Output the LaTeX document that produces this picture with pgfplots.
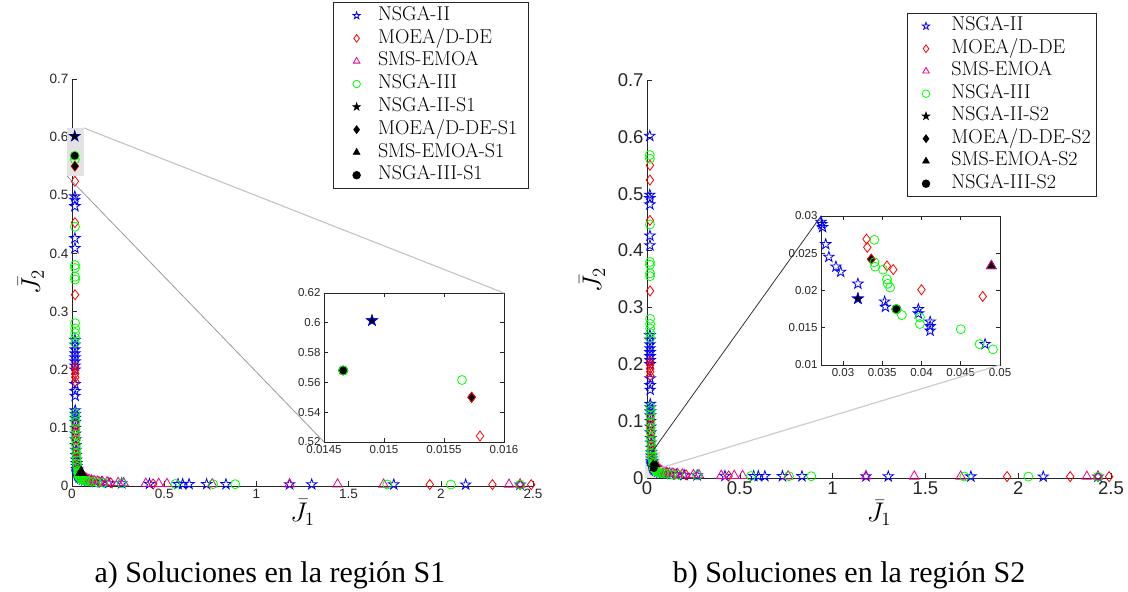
\documentclass[border=0pt]{standalone}
\usepackage{fontspec}
\usepackage{pgfplots}
\usepackage{pgfplotstable}
\pgfplotsset{compat=1.18}
\newfontfamily\arialf{Liberation Sans}
\newfontfamily\timesf{Liberation Serif}
\definecolor{axgray}{RGB}{38,38,38}

\pgfdeclareplotmark{pentagram}{%
 \pgfpathmoveto{\pgfpointpolar{90}{\pgfplotmarksize}}%
 \pgfpathlineto{\pgfpointpolar{126}{0.382\pgfplotmarksize}}%
 \pgfpathlineto{\pgfpointpolar{162}{\pgfplotmarksize}}%
 \pgfpathlineto{\pgfpointpolar{198}{0.382\pgfplotmarksize}}%
 \pgfpathlineto{\pgfpointpolar{234}{\pgfplotmarksize}}%
 \pgfpathlineto{\pgfpointpolar{270}{0.382\pgfplotmarksize}}%
 \pgfpathlineto{\pgfpointpolar{306}{\pgfplotmarksize}}%
 \pgfpathlineto{\pgfpointpolar{342}{0.382\pgfplotmarksize}}%
 \pgfpathlineto{\pgfpointpolar{18}{\pgfplotmarksize}}%
 \pgfpathlineto{\pgfpointpolar{54}{0.382\pgfplotmarksize}}%
 \pgfpathclose\pgfusepathqstroke}
\pgfdeclareplotmark{pentagram*}{%
 \pgfpathmoveto{\pgfpointpolar{90}{\pgfplotmarksize}}%
 \pgfpathlineto{\pgfpointpolar{126}{0.382\pgfplotmarksize}}%
 \pgfpathlineto{\pgfpointpolar{162}{\pgfplotmarksize}}%
 \pgfpathlineto{\pgfpointpolar{198}{0.382\pgfplotmarksize}}%
 \pgfpathlineto{\pgfpointpolar{234}{\pgfplotmarksize}}%
 \pgfpathlineto{\pgfpointpolar{270}{0.382\pgfplotmarksize}}%
 \pgfpathlineto{\pgfpointpolar{306}{\pgfplotmarksize}}%
 \pgfpathlineto{\pgfpointpolar{342}{0.382\pgfplotmarksize}}%
 \pgfpathlineto{\pgfpointpolar{18}{\pgfplotmarksize}}%
 \pgfpathlineto{\pgfpointpolar{54}{0.382\pgfplotmarksize}}%
 \pgfpathclose\pgfusepathqfillstroke}

\pgfplotstableread{
x y
0.0149 0.6015
0.0152 0.498
0.0153 0.492
0.0155 0.481
0.0157 0.426
0.0158 0.409
0.0160 0.251
0.0161 0.243
0.0162 0.235
0.0163 0.228
0.0164 0.221
0.0165 0.214
0.0166 0.207
0.0167 0.200
0.0169 0.175
0.0170 0.163
0.0171 0.155
0.0175 0.130
0.0177 0.124
0.0179 0.117
0.0182 0.110
0.0186 0.100
0.0190 0.090
0.0196 0.080
0.0203 0.070
0.0210 0.062
0.0220 0.053
0.0232 0.045
0.0245 0.039
0.0258 0.034
0.0272 0.0292
0.0273 0.0289
0.0274 0.0285
0.0278 0.0262
0.0282 0.0245
0.0291 0.0232
0.0297 0.0225
0.0319 0.0209
0.0319 0.0189
0.0353 0.0185
0.0354 0.0178
0.0396 0.0175
0.0396 0.0169
0.0411 0.0158
0.0411 0.0152
0.0411 0.0146
0.0481 0.0128
0.058 0.0110
0.070 0.0095
0.085 0.0085
0.105 0.0075
0.130 0.0068
0.160 0.0060
0.200 0.0052
0.270 0.0045
0.420 0.0035
0.575 0.0033
0.600 0.0033
0.635 0.0032
0.730 0.0031
0.835 0.0030
1.180 0.0028
1.300 0.0027
1.745 0.0025
2.135 0.0024
2.430 0.0023
}\nsgaii

\pgfplotstableread{
x y
0.01573 0.550
0.0158 0.524
0.0160 0.453
0.0165 0.329
0.0170 0.205
0.0171 0.199
0.0172 0.193
0.0173 0.187
0.0175 0.180
0.0190 0.105
0.0195 0.096
0.0200 0.088
0.0210 0.078
0.0222 0.068
0.0235 0.058
0.0250 0.048
0.0270 0.038
0.0330 0.0269
0.0331 0.0258
0.0336 0.0242
0.0356 0.0233
0.0364 0.0228
0.0400 0.0201
0.0478 0.0192
0.065 0.0130
0.085 0.0100
0.110 0.0085
0.150 0.0068
0.210 0.0055
0.440 0.0035
1.940 0.0025
2.280 0.0024
2.430 0.0023
2.490 0.0023
}\moead

\pgfplotstableread{
x y
0.0489 0.0233
0.055 0.0190
0.062 0.0165
0.070 0.0145
0.080 0.0125
0.092 0.0110
0.105 0.0098
0.120 0.0088
0.140 0.0080
0.165 0.0072
0.190 0.0066
0.250 0.0055
0.280 0.0052
0.400 0.0042
0.470 0.0040
0.515 0.0038
0.760 0.0033
1.180 0.0030
1.440 0.0029
1.690 0.0027
2.370 0.0025
2.430 0.0025
}\smsemoa

\pgfplotstableread{
x y
0.01466 0.568
0.01565 0.5616
0.0160 0.446
0.0162 0.380
0.0163 0.375
0.0164 0.360
0.0165 0.355
0.0168 0.280
0.0169 0.271
0.0170 0.263
0.0171 0.255
0.0172 0.246
0.0180 0.125
0.0182 0.118
0.0185 0.110
0.0190 0.098
0.0197 0.088
0.0205 0.079
0.0213 0.071
0.0222 0.064
0.0232 0.057
0.0243 0.050
0.0256 0.044
0.0270 0.038
0.0285 0.033
0.0340 0.0268
0.0340 0.0238
0.0341 0.0232
0.0351 0.0228
0.0356 0.0215
0.0357 0.0209
0.0360 0.0204
0.0368 0.0175
0.0375 0.0167
0.0398 0.0164
0.0398 0.0155
0.0450 0.0148
0.0474 0.0128
0.0491 0.0121
0.056 0.0105
0.065 0.0095
0.075 0.0088
0.090 0.0080
0.110 0.0072
0.135 0.0065
0.170 0.0058
0.270 0.0045
0.560 0.0034
0.765 0.0032
0.885 0.0031
1.710 0.0026
2.055 0.0025
2.430 0.0024
}\nsgaiii

\pgfplotsset{
  sA/.style={only marks, mark=pentagram, blue, mark size=5.5pt, line width=0.8pt},
  sB/.style={only marks, mark=diamond, red, mark size=5pt, line width=0.8pt},
  sC/.style={only marks, mark=triangle, magenta, mark size=5.5pt, line width=0.8pt},
  sD/.style={only marks, mark=o, green, mark size=4.5pt, line width=0.8pt},
  kA/.style={only marks, mark=pentagram*, black, mark size=5.5pt, line width=0.8pt},
  kB/.style={only marks, mark=diamond*, black, mark size=5pt, line width=0.8pt},
  kC/.style={only marks, mark=triangle*, black, mark size=6pt, line width=0.8pt},
  kD/.style={only marks, mark=*, black, mark size=4.5pt, line width=0.8pt},
  mylegimg/.style={legend image code/.code={\path (-14pt,0pt) (14pt,0pt); \draw[##1,mark size=3.8pt] plot coordinates {(0pt,0pt)};}},
  mainax/.style={scale only axis, anchor=south west,
    axis x line*=bottom, axis y line*=left,
    axis line style={axgray, line width=0.6pt, -},
    tick style={axgray, line width=0.6pt}, major tick length=5pt, tick align=inside,
    xmin=0, xmax=2.5, ymin=0, ymax=0.7,
    xtick={0,0.5,1,1.5,2,2.5}, ytick={0,0.1,0.2,0.3,0.4,0.5,0.6,0.7},
    clip=false, scaled ticks=false,
    /pgf/number format/assume math mode=true,
    label style={font=\fontsize{20.74}{24}\selectfont, scale=1.3},
    mylegimg, legend cell align=left},
  insetax/.style={scale only axis, anchor=south west,
    axis line style={axgray, line width=0.6pt},
    tick style={axgray, line width=0.6pt}, major tick length=4pt, tick align=inside,
    clip=false, scaled ticks=false,
    axis background/.style={fill=white},
    /pgf/number format/assume math mode=true,
    /pgf/number format/fixed, /pgf/number format/precision=4,
    ticklabel style={font=\arialf\fontsize{11.5}{14}\selectfont, text=axgray}},
}

\begin{document}
\begin{tikzpicture}
\useasboundingbox (0pt,0pt) rectangle (1128pt,592pt);

% ---------------- left main axis ----------------
\begin{axis}[mainax, at={(72pt,106pt)}, width=461pt, height=407pt,
  ticklabel style={font=\arialf\fontsize{13.5}{16}\selectfont, text=axgray},
  xlabel={$\bar{J}_1$}, ylabel={$\bar{J}_2$},
  xlabel style={at={(axis description cs:0.5,-0.066)}, anchor=center},
  ylabel style={at={(axis description cs:-0.089,0.501)}, anchor=center},
  legend style={at={(0.566,1.189)}, anchor=north west, draw=axgray, line width=0.6pt, fill=white,
    font=\fontsize{20}{22}\selectfont, inner xsep=9pt, inner ysep=2pt, row sep=0.3pt, column sep=5pt,
    nodes={inner sep=2pt, text height=14pt, text depth=4.5pt, font=\fontsize{20}{22}\selectfont}}]
\addplot[sA] table {\nsgaii}; \addlegendentry{NSGA-II}
\addplot[sB] table {\moead}; \addlegendentry{MOEA/D-DE}
\addplot[sC] table {\smsemoa}; \addlegendentry{SMS-EMOA}
\addplot[sD] table {\nsgaiii}; \addlegendentry{NSGA-III}
\fill[gray!22] (axis cs:-0.027,0.534) rectangle (axis cs:0.065,0.616);
\addplot[kA, mark size=4pt] coordinates {(0.0149,0.6015)}; \addlegendentry{NSGA-II-S1}
\addplot[kB, mark size=4pt] coordinates {(0.01573,0.550)}; \addlegendentry{MOEA/D-DE-S1}
\addplot[kC] coordinates {(0.0489,0.0233)}; \addlegendentry{SMS-EMOA-S1}
\addplot[kD, mark size=3.5pt] coordinates {(0.01466,0.568)}; \addlegendentry{NSGA-III-S1}
\end{axis}

% ---------------- left inset ----------------
\begin{axis}[insetax, at={(324pt,150pt)}, width=180pt, height=149pt,
  xmin=0.0145, xmax=0.016, ymin=0.52, ymax=0.62,
  xtick={0.0145,0.015,0.0155,0.016}, ytick={0.52,0.54,0.56,0.58,0.6,0.62},
  restrict x to domain=0.0144:0.0161, restrict y to domain=0.519:0.621]
\addplot[kA] coordinates {(0.0149,0.6015)};
\addplot[kB] coordinates {(0.01573,0.550)};
\addplot[kD] coordinates {(0.01466,0.568)};
\addplot[sA] table {\nsgaii};
\addplot[sB] table {\moead};
\addplot[sC] table {\smsemoa};
\addplot[sD] table {\nsgaiii};
\end{axis}

% ---------------- right main axis ----------------
\begin{axis}[mainax, at={(647pt,114pt)}, width=464pt, height=398pt,
  ticklabel style={font=\arialf\fontsize{18.5}{22}\selectfont, text=axgray},
  xlabel={$\bar{J}_1$}, ylabel={$\bar{J}_2$},
  xlabel style={at={(axis description cs:0.5,-0.088)}, anchor=center},
  ylabel style={at={(axis description cs:-0.118,0.497)}, anchor=center},
  legend style={at={(0.561,1.168)}, anchor=north west, draw=axgray, line width=0.6pt, fill=white,
    font=\fontsize{20}{22}\selectfont, inner xsep=4pt, inner ysep=1.5pt, row sep=0pt, column sep=9pt,
    nodes={inner sep=2pt, text height=14pt, text depth=4.5pt, font=\fontsize{20}{22}\selectfont}}]
\addplot[sA] table {\nsgaii}; \addlegendentry{NSGA-II}
\addplot[sB] table {\moead}; \addlegendentry{MOEA/D-DE}
\addplot[sC] table {\smsemoa}; \addlegendentry{SMS-EMOA}
\addplot[sD] table {\nsgaiii}; \addlegendentry{NSGA-III}
\fill[gray!22] (axis cs:-0.011,0.0) rectangle (axis cs:0.07,0.046);
\addplot[kA, mark size=4pt] coordinates {(0.0319,0.0189)}; \addlegendentry{NSGA-II-S2}
\addplot[kB, mark size=4pt] coordinates {(0.0336,0.0242)}; \addlegendentry{MOEA/D-DE-S2}
\addplot[kC, mark size=4pt] coordinates {(0.0489,0.0233)}; \addlegendentry{SMS-EMOA-S2}
\addplot[kD, mark size=3.5pt] coordinates {(0.0368,0.0175)}; \addlegendentry{NSGA-III-S2}
\end{axis}

% ---------------- right inset ----------------
\begin{axis}[insetax, at={(821pt,227pt)}, width=179pt, height=149pt,
  xmin=0.0272, xmax=0.05, ymin=0.01, ymax=0.03,
  xtick={0.03,0.035,0.04,0.045,0.05}, ytick={0.01,0.015,0.02,0.025,0.03},
  restrict x to domain=0.027:0.0502, restrict y to domain=0.0099:0.0301]
\addplot[kA] coordinates {(0.0319,0.0189)};
\addplot[kB] coordinates {(0.0336,0.0242)};
\addplot[kC, mark size=5.5pt] coordinates {(0.0489,0.0233)};
\addplot[kD] coordinates {(0.0368,0.0175)};
\addplot[sA] table {\nsgaii};
\addplot[sB] table {\moead};
\addplot[sC] table {\smsemoa};
\addplot[sD] table {\nsgaiii};
\end{axis}

% zoom connector lines
\draw[gray!45, line width=1.2pt] (84pt,464pt) -- (504pt,299pt);
\draw[gray!80, line width=0.8pt] (67pt,416pt) -- (324pt,150pt);
\draw[black!80, line width=0.8pt] (652pt,140pt) -- (821pt,376pt);
\draw[gray!40, line width=1.2pt] (660pt,124pt) -- (1000pt,227pt);

% captions
\node[font=\timesf\fontsize{30}{36}\selectfont, anchor=base] at (270pt,9pt) {a) Soluciones en la región S1};
\node[font=\timesf\fontsize{30}{36}\selectfont, anchor=base] at (849pt,9pt) {b) Soluciones en la región S2};
\end{tikzpicture}
\end{document}
